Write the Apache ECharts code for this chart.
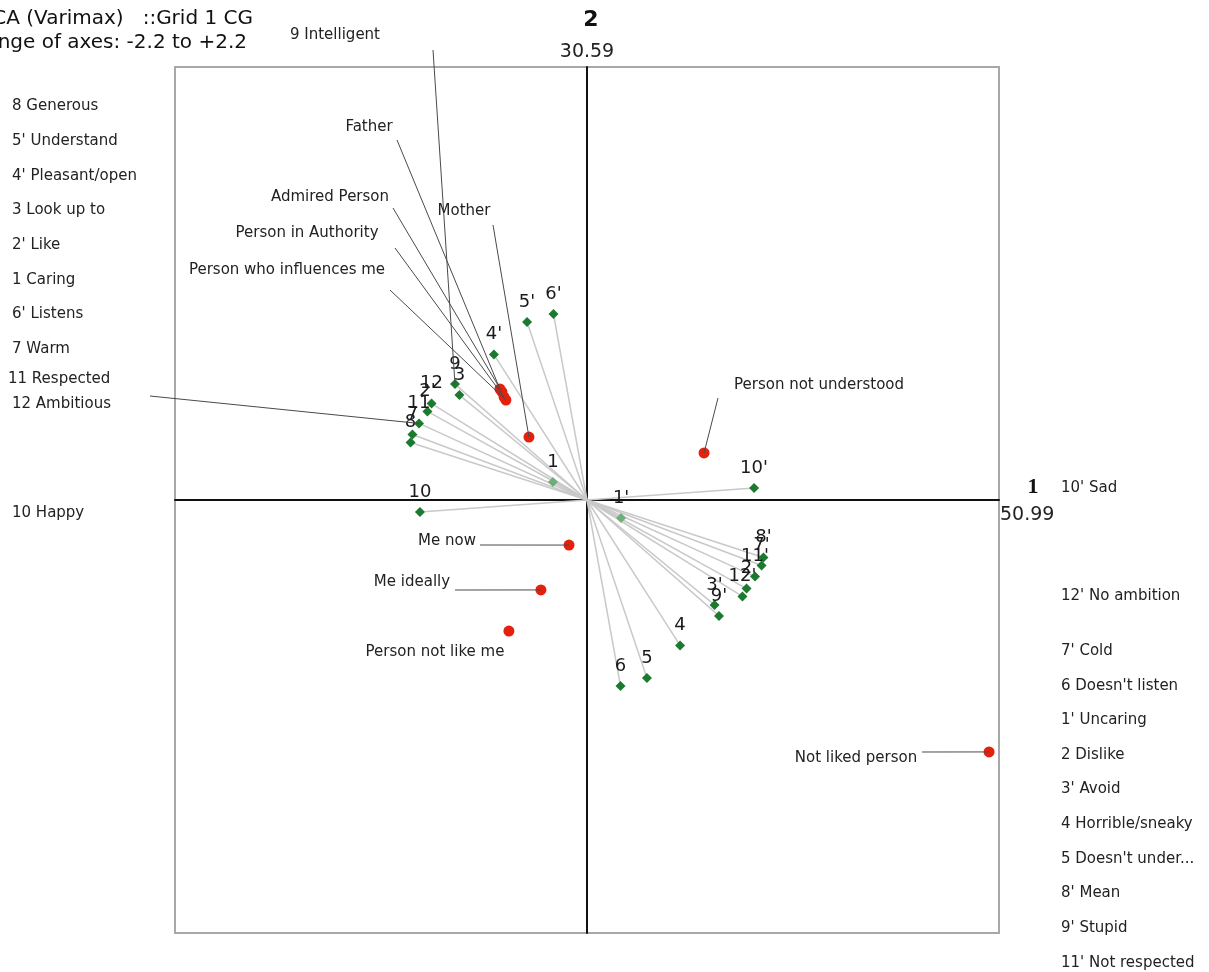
<!DOCTYPE html>
<html><head><meta charset="utf-8">
<script src="https://cdn.jsdelivr.net/npm/echarts@6/dist/echarts.min.js"></script>
<style>html,body{margin:0;padding:0;background:#fff}#c{width:1209px;height:972px}</style>
</head><body><div id="c"></div>
<script>
// ---- data ----
const constructIds = ['1','2','3','4','5','6','7','8','9','10','11','12'];
const constructX = [-0.182, 0.852, -0.681, 0.497, 0.320, 0.179, -0.932, -0.942, -0.705, -0.892, -0.897, -0.830];
const constructY = [0.091, -0.450, 0.533, -0.739, -0.904, -0.945, 0.333, 0.292, 0.589, -0.061, 0.389, 0.490];

const elementNames = ['Father','Admired Person','Person in Authority','Person who influences me','Mother','Person not understood','Me now','Me ideally','Person not like me','Not liked person'];
const elementX = [-0.465, -0.454, -0.443, -0.433, -0.310, 0.625, -0.096, -0.246, -0.417, 2.147];
const elementY = [0.564, 0.549, 0.523, 0.508, 0.320, 0.239, -0.229, -0.457, -0.666, -1.280];

const leftPoleLabels = ['8 Generous',"5' Understand","4' Pleasant/open",'3 Look up to',"2' Like",'1 Caring',"6' Listens",'7 Warm','11 Respected','12 Ambitious','10 Happy'];
const rightPoleLabels = ["10' Sad","12' No ambition","7' Cold","6 Doesn't listen","1' Uncaring","2 Dislike","3' Avoid","4 Horrible/sneaky","5 Doesn't under...","8' Mean","9' Stupid","11' Not respected"];
const titleLines = ['PCA (Varimax)   ::Grid 1 CG','Range of axes: -2.2 to +2.2'];
const axisNames = ['1','2'];
const axisPercents = ['50.99','30.59'];
const axisRange = 2.2;

// ---- layout (pixel positions of free text) ----
const leftPoleY = [106,141,176,210,245,280,314,349,379,404,513];
const rightPoleY = [488,596,651,686,720,755,789,824,859,893,928,963];
const elementLabelPos = [[369,127],[330,197],[307,233],[287,270],[464,211],[819,385],[447,541],[412,582],[435,652],[856,758]];
const elementLeaderStart = [[397,140],[393,208],[395,248],[390,290],[493,225],[718,398],[480,545],[455,590],null,[922,752]];

const FONT = 'DejaVu Sans';
const chart = echarts.init(document.getElementById('c'));

const pts = [];
const rays = [];
constructIds.forEach((id, i) => {
  const light = id === '1';
  const col = light ? '#6fae78' : '#1b7a2e';
  pts.push({name: id, value: [constructX[i], constructY[i]], itemStyle: {color: col}});
  pts.push({name: id + "'", value: [-constructX[i], -constructY[i]], itemStyle: {color: col}});
  rays.push({coords: [[0,0],[constructX[i], constructY[i]]]});
  rays.push({coords: [[0,0],[-constructX[i], -constructY[i]]]});
});
const elems = elementNames.map((n, i) => ({name: n, value: [elementX[i], elementY[i]]}));

const axisCommon = {
  type: 'value', min: -axisRange, max: axisRange,
  axisLine: {show: true, onZero: true, lineStyle: {color: '#111', width: 2}},
  axisTick: {show: false}, axisLabel: {show: false}, splitLine: {show: false}
};

chart.setOption({
  animation: false,
  grid: {left: 175, top: 67, width: 824, height: 866, show: true, borderColor: '#a8a8a8', borderWidth: 2, backgroundColor: 'transparent'},
  xAxis: axisCommon,
  yAxis: axisCommon,
  series: [
    {type: 'lines', coordinateSystem: 'cartesian2d', silent: true, z: 1,
     lineStyle: {color: '#c9c9c9', width: 1.5, opacity: 1}, data: rays},
    {type: 'scatter', symbol: 'diamond', symbolSize: 10, z: 3, data: pts,
     itemStyle: {opacity: 1},
     label: {show: true, position: 'top', distance: 6, formatter: '{b}', fontFamily: FONT, fontSize: 18, color: '#1a1a1a', opacity: 1}},
    {type: 'scatter', symbol: 'circle', symbolSize: 11, z: 4, data: elems,
     itemStyle: {color: '#e5200c', opacity: 1}}
  ]
});

const g = [];
// titles
g.push({type: 'text', x: 253, y: 19, style: {text: titleLines[0], font: '20px ' + FONT, fill: '#111', textAlign: 'right', textVerticalAlign: 'middle'}});
g.push({type: 'text', x: 247, y: 43, style: {text: titleLines[1], font: '20px ' + FONT, fill: '#111', textAlign: 'right', textVerticalAlign: 'middle'}});
// axis names
g.push({type: 'text', x: 591, y: 20, style: {text: axisNames[1], font: 'bold 22px ' + FONT, fill: '#111', textAlign: 'center', textVerticalAlign: 'middle'}});
g.push({type: 'text', x: 587, y: 52, style: {text: axisPercents[1], font: '19px ' + FONT, fill: '#222', textAlign: 'center', textVerticalAlign: 'middle'}});
g.push({type: 'text', x: 1033, y: 487, style: {text: axisNames[0], font: 'bold 22px "Liberation Serif"', fill: '#111', textAlign: 'center', textVerticalAlign: 'middle'}});
g.push({type: 'text', x: 1000, y: 515, style: {text: axisPercents[0], font: '19px ' + FONT, fill: '#222', textAlign: 'left', textVerticalAlign: 'middle'}});
// pole labels
leftPoleLabels.forEach((t, i) => g.push({type: 'text', x: i === 8 ? 8 : 12, y: leftPoleY[i], style: {text: t, font: '15px ' + FONT, fill: '#222', textAlign: 'left', textVerticalAlign: 'middle'}}));
rightPoleLabels.forEach((t, i) => g.push({type: 'text', x: 1061, y: rightPoleY[i], style: {text: t, font: '15px ' + FONT, fill: '#222', textAlign: 'left', textVerticalAlign: 'middle'}}));
g.push({type: 'text', x: 290, y: 35, style: {text: '9 Intelligent', font: '15px ' + FONT, fill: '#222', textAlign: 'left', textVerticalAlign: 'middle'}});

// element labels + leaders
elementNames.forEach((n, i) => {
  g.push({type: 'text', x: elementLabelPos[i][0], y: elementLabelPos[i][1], z: 10, style: {text: n, font: '15px ' + FONT, fill: '#222', textAlign: 'center', textVerticalAlign: 'middle'}});
  if (elementLeaderStart[i]) {
    const p = chart.convertToPixel({gridIndex: 0}, [elementX[i], elementY[i]]);
    g.push({type: 'line', z: 5, shape: {x1: elementLeaderStart[i][0], y1: elementLeaderStart[i][1], x2: p[0], y2: p[1]}, style: {stroke: '#4a4a4a', lineWidth: 1}});
  }
});
// construct leaders (9 Intelligent, 12 Ambitious)
const p9 = chart.convertToPixel({gridIndex: 0}, [constructX[8], constructY[8]]);
g.push({type: 'line', z: 5, shape: {x1: 433, y1: 50, x2: p9[0], y2: p9[1]}, style: {stroke: '#4a4a4a', lineWidth: 1}});
const p11 = chart.convertToPixel({gridIndex: 0}, [constructX[10], constructY[10]]);
g.push({type: 'line', z: 5, shape: {x1: 150, y1: 396, x2: p11[0], y2: p11[1]}, style: {stroke: '#4a4a4a', lineWidth: 1}});

chart.setOption({graphic: g});
</script></body></html>
